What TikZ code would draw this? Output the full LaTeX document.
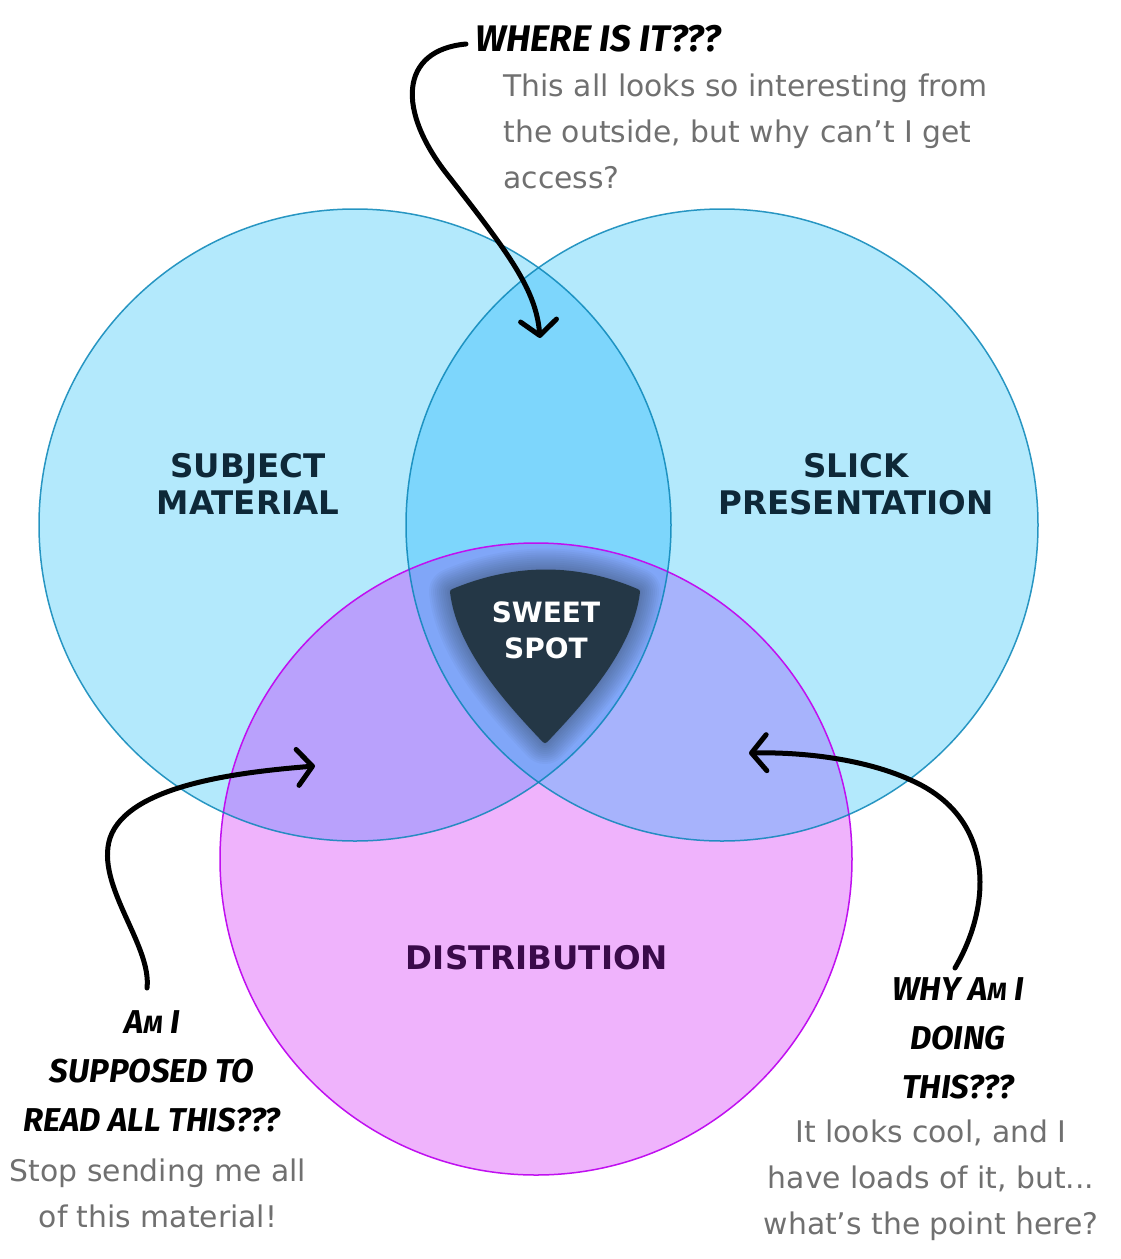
\documentclass[tikz,border=0pt]{standalone}
\usepackage{fontspec}
\setmainfont{DejaVu Sans}
\newfontfamily\handfont{Fira Sans}
\usetikzlibrary{arrows.meta}

\definecolor{circblue}{HTML}{B3E9FC}
\definecolor{circpink}{HTML}{EFB3FC}
\definecolor{ovab}{HTML}{7DD6FC}
\definecolor{ovac}{HTML}{B9A1FC}
\definecolor{ovbc}{HTML}{A7B3FC}
\definecolor{ovabc}{HTML}{80A6F8}
\definecolor{edgeblue}{HTML}{0A86B8}
\definecolor{edgepink}{HTML}{C010F0}
\definecolor{labeltxt}{HTML}{0E2838}
\definecolor{distrtxt}{HTML}{3A0A4A}
\definecolor{greytxt}{HTML}{707070}
\definecolor{shieldcol}{HTML}{243746}

\newcommand{\shieldpath}{(453,592) .. controls (515,566) and (577,566) .. (637,592)
  .. controls (630,650) and (578,705) .. (545,740)
  .. controls (512,705) and (460,650) .. (453,592) -- cycle}
\newcommand{\smcap}[1]{{\fontsize{25}{25}\selectfont #1}}

\begin{document}
\begin{tikzpicture}[x=1pt,y=-1pt,
  bigcirc/.style={radius=316},
  circlabel/.style={font=\bfseries\fontsize{32.5}{37}\selectfont, text=labeltxt, align=center},
  note/.style={font=\fontsize{29.8}{46}\selectfont, text=greytxt},
  hand/.style={font=\handfont\bfseries\itshape\fontsize{33}{49}\selectfont, align=center},
  pointer/.style={line width=5pt, line cap=round, -{Straight Barb[round,length=15pt,width=36pt]}}]
  \useasboundingbox (0,0) rectangle (1121,1259);
  \coordinate (cA) at (355,525);
  \coordinate (cB) at (722,525);
  \coordinate (cC) at (536,859);

  % circles and overlaps
  \fill[circblue] (cA) circle[bigcirc];
  \fill[circblue] (cB) circle[bigcirc];
  \fill[circpink] (cC) circle[bigcirc];
  \begin{scope}
    \clip (cB) circle[bigcirc];
    \fill[ovbc] (cC) circle[bigcirc];
  \end{scope}
  \begin{scope}
    \clip (cA) circle[bigcirc];
    \fill[ovab] (cB) circle[bigcirc];
    \fill[ovac] (cC) circle[bigcirc];
    \clip (cB) circle[bigcirc];
    \fill[ovabc] (cC) circle[bigcirc];
  \end{scope}
  \draw[edgepink, line width=1.5pt] (cC) circle[bigcirc];
  \draw[edgeblue, line width=1.5pt, opacity=0.85] (cA) circle[bigcirc];
  \draw[edgeblue, line width=1.5pt, opacity=0.85] (cB) circle[bigcirc];

  % sweet spot
  \foreach \w in {48,44,...,4}
    \draw[shieldcol, opacity=0.045, line width=\w pt, line join=round] \shieldpath;
  \fill[shieldcol, draw=shieldcol, line width=6pt, line join=round] \shieldpath;
  \node[circlabel, text=white, font=\bfseries\fontsize{28}{36}\selectfont] (sweet) at (546,630) {SWEET\\SPOT};

  % labels
  \node[circlabel] (subject) at (248,484) {SUBJECT\\MATERIAL};
  \node[circlabel] (slick) at (856,484) {SLICK\\PRESENTATION};
  \node[circlabel, text=distrtxt] (distr) at (537,958) {DISTRIBUTION};

  % remarks
  \node[hand, anchor=west, font=\handfont\bfseries\itshape\fontsize{37}{49}\selectfont] (where) at (472,39) {WHERE IS IT???};
  \node[note, anchor=west, align=left] (wherenote) at (500,131)
    {This all looks so interesting from\\the outside, but why can’t I get\\access?};
  \node[hand] (read) at (152,1071) {A\smcap{M} I\\SUPPOSED TO\\READ ALL THIS???};
  \node[note, align=center] (readnote) at (158,1193) {Stop sending me all\\of this material!};
  \node[hand] (doing) at (958,1038) {WHY A\smcap{M} I\\DOING\\THIS???};
  \node[note, align=center] (doingnote) at (931,1180)
    {It looks cool, and I\\have loads of it, but...\\what’s the point here?};

  % pointers
  \coordinate (wherestart) at (466,44);
  \coordinate (whereend) at (540,338);
  \coordinate (readstart) at (147,988);
  \coordinate (readend) at (315,766);
  \coordinate (doingstart) at (955,968);
  \coordinate (doingend) at (749,753);
  \draw[pointer] (wherestart) .. controls (400,50) and (395,110) .. (450,178)
    .. controls (510,255) and (536,290) .. (whereend);
  \draw[pointer] (readstart) .. controls (152,945) and (95,885) .. (110,838)
    .. controls (128,785) and (240,772) .. (readend);
  \draw[pointer] (doingstart) .. controls (992,905) and (995,820) .. (915,782)
    .. controls (865,758) and (800,752) .. (doingend);
\end{tikzpicture}
\end{document}
